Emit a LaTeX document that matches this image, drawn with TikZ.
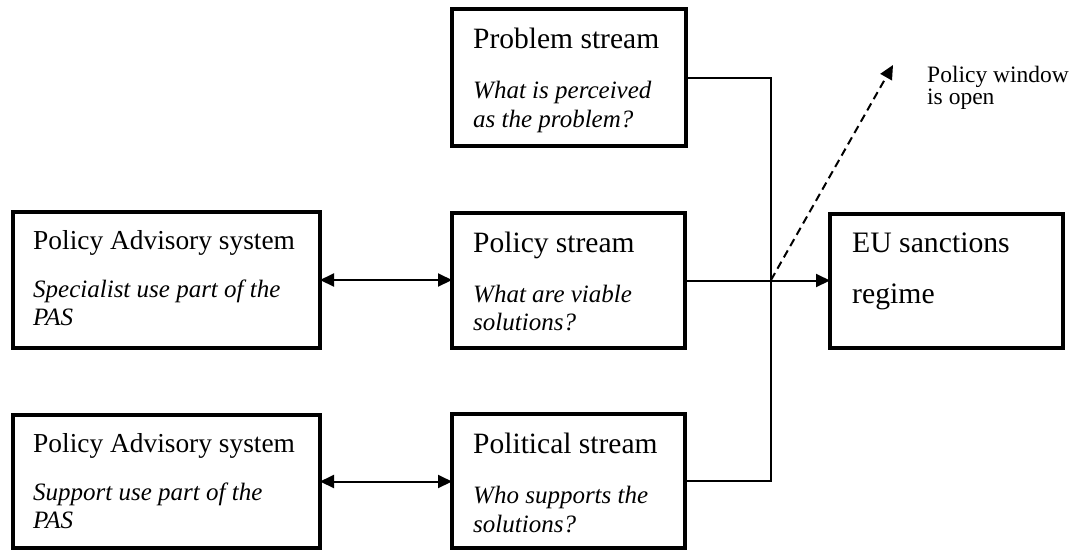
\documentclass[tikz,border=0pt]{standalone}
\usepackage{fontspec}
\setmainfont{Liberation Serif}
\usetikzlibrary{arrows.meta}
\tikzset{
  box/.style={draw, line width=3.3pt, anchor=north west, inner sep=0pt, outer sep=0pt},
  ttl/.style={anchor=base west, inner sep=0pt, font=\fontsize{29.5}{32}\selectfont},
  pasttl/.style={anchor=base west, inner sep=0pt, font=\fontsize{27.4}{30}\selectfont},
  itl/.style={anchor=base west, inner sep=0pt, font=\fontsize{25}{28}\selectfont\itshape},
  eut/.style={anchor=base west, inner sep=0pt, font=\fontsize{29.7}{32}\selectfont},
  wnd/.style={anchor=base west, inner sep=0pt, font=\fontsize{23.5}{24}\selectfont},
  conn/.style={line width=2pt},
  tip/.style={-{Triangle[length=14pt,width=13pt]}},
  dtip/.style={{Triangle[length=14pt,width=13pt]}-{Triangle[length=14pt,width=13pt]}},
  dashln/.style={line width=2pt, dash pattern=on 8pt off 5pt}
}
\begin{document}
\begin{tikzpicture}[x=1pt,y=-1pt]
\useasboundingbox (0,0) rectangle (1081,550);
\fill[white] (0,0) rectangle (1081,550);

% boxes
\node[box, minimum width=307pt, minimum height=136pt] (pas1) at (13,212) {};
\node[box, minimum width=307pt, minimum height=133pt] (pas2) at (13,415) {};
\node[box, minimum width=234pt, minimum height=137pt] (prob) at (452,9) {};
\node[box, minimum width=233pt, minimum height=135pt] (pol) at (452,213) {};
\node[box, minimum width=233pt, minimum height=134pt] (polit) at (452,414) {};
\node[box, minimum width=233pt, minimum height=134pt] (eu) at (830,214) {};

% texts
\node[pasttl] (pas1t) at (33,249) {Policy Advisory system};
\node[itl] (pas1a) at (33,297) {Specialist use part of the};
\node[itl] (pas1b) at (33,325) {PAS};

\node[pasttl] (pas2t) at (33,452) {Policy Advisory system};
\node[itl] (pas2a) at (33,500) {Support use part of the};
\node[itl] (pas2b) at (33,528) {PAS};

\node[ttl] (probt) at (473,48) {Problem stream};
\node[itl] (proba) at (473,98) {What is perceived};
\node[itl] (probb) at (473,127) {as the problem?};

\node[ttl] (polt) at (473,252) {Policy stream};
\node[itl] (pola) at (473,302) {What are viable};
\node[itl] (polb) at (473,330) {solutions?};

\node[ttl] (politt) at (473,453) {Political stream};
\node[itl] (polita) at (473,503) {Who supports the};
\node[itl] (politb) at (473,532) {solutions?};

\node[eut] (eut1) at (852,252) {EU sanctions};
\node[eut] (eut2) at (852,303) {regime};

\node[wnd] (w1) at (927,82) {Policy window};
\node[wnd] (w2) at (927,104) {is open};

% connectors
\coordinate (j) at (771,280);
\coordinate (wtip) at (893,65);
\draw[conn, dtip] (pas1.east) -- (pas1.east -| pol.west);
\draw[conn, dtip] (pas2.east) -- (pas2.east -| polit.west);
\draw[conn] (prob.east) -| (j);
\draw[conn] (polit.east) -| (j);
\draw[conn, tip] (pol.east) -- (pol.east -| eu.west);
\draw[dashln, tip] (j) -- (wtip);
\end{tikzpicture}
\end{document}
